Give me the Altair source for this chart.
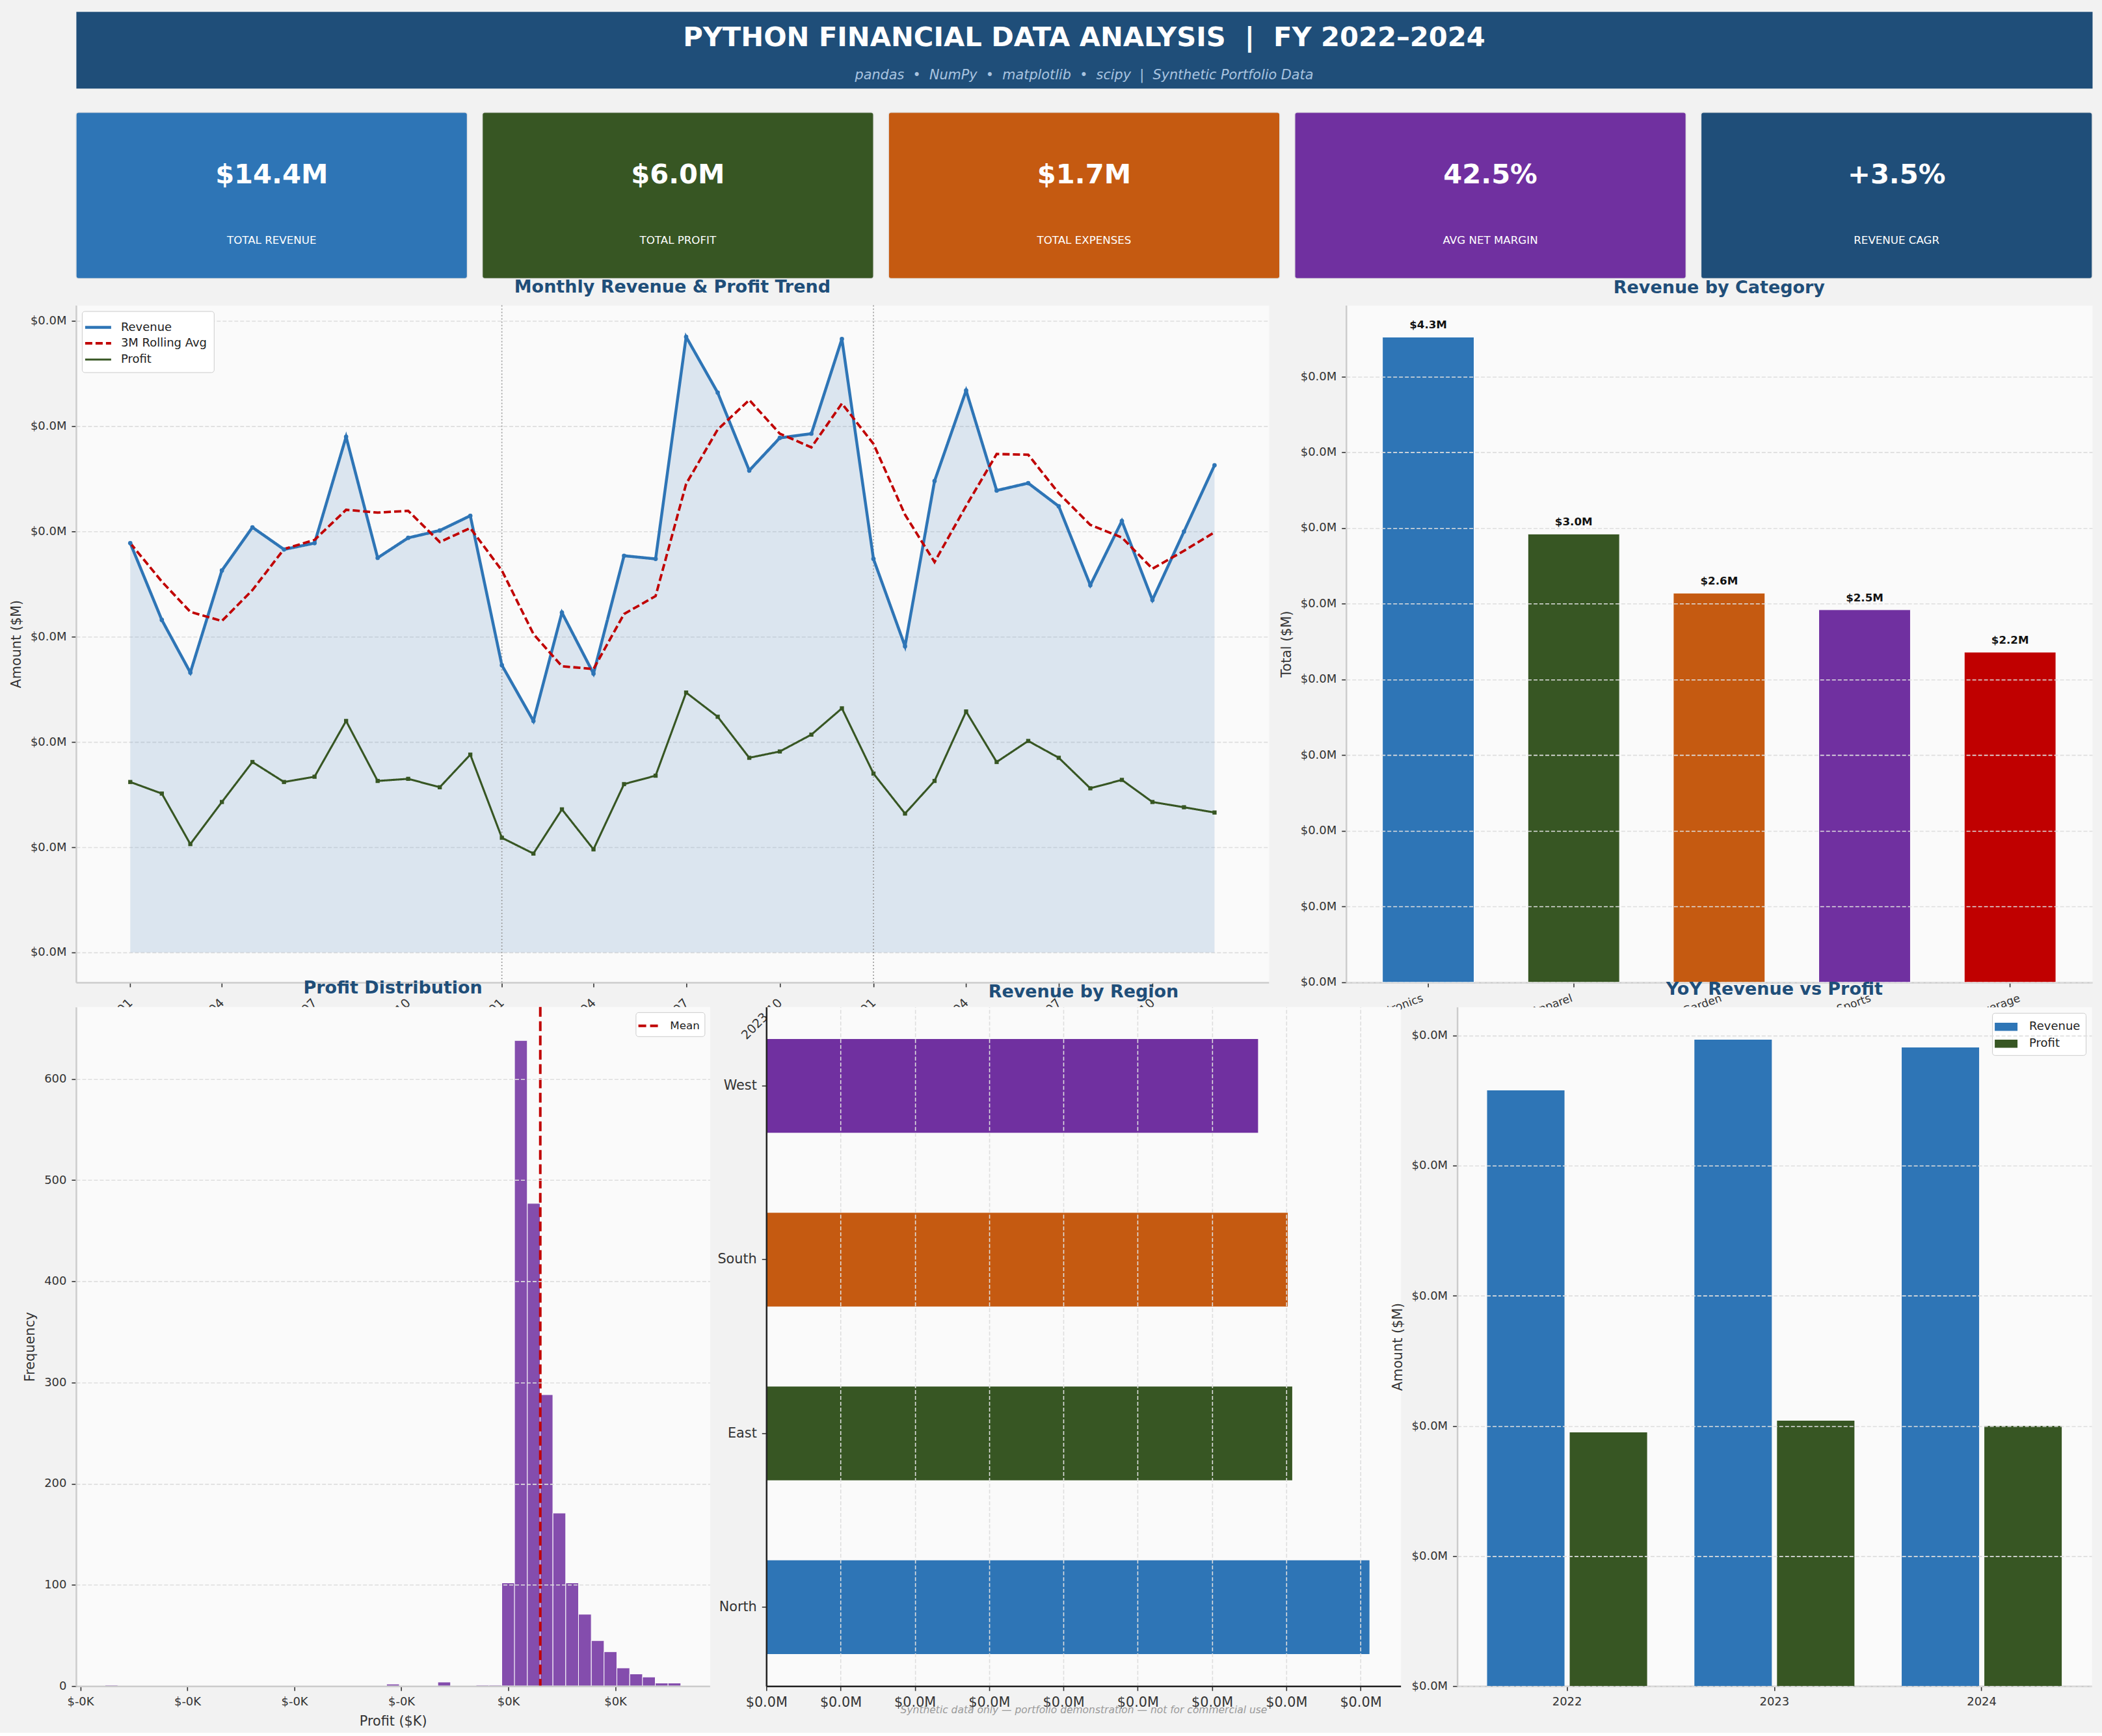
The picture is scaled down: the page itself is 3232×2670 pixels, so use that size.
import altair as alt
import pandas as pd

# ---------------------------------------------------------------- palette
FONT = "DejaVu Sans"
PAGE_BG = "#F2F2F2"
PANEL_BG = "#FAFAFA"
NAVY = "#1F4E79"
BLUE = "#2E75B6"
GREEN = "#375623"
ORANGE = "#C55A11"
PURPLE = "#7030A0"
RED = "#C00000"
INK = "#333333"
SPINE = "#CCCCCC"
GRID = "#DEDEDE"
NB = "\u00a0"

# ---------------------------------------------------------------- data
header_title = [f"PYTHON FINANCIAL DATA ANALYSIS {NB}|{NB} FY 2022\u20132024"]
header_subtitle = [f"pandas {NB}\u2022{NB} NumPy {NB}\u2022{NB} matplotlib {NB}\u2022{NB} scipy {NB}|{NB} Synthetic Portfolio Data"]
footnote = "Synthetic data only \u2014 portfolio demonstration \u2014 not for commercial use"

kpi_values = ["$14.4M", "$6.0M", "$1.7M", "42.5%", "+3.5%"]
kpi_labels = ["TOTAL REVENUE", "TOTAL PROFIT", "TOTAL EXPENSES", "AVG NET MARGIN", "REVENUE CAGR"]
kpi_colors = [BLUE, GREEN, ORANGE, PURPLE, NAVY]

months = [f"{y}-{m:02d}-01" for y in (2022, 2023, 2024) for m in range(1, 13)]
revenue = [0.389, 0.316, 0.266, 0.363, 0.404, 0.383, 0.389, 0.490, 0.375, 0.394, 0.401, 0.415,
           0.273, 0.220, 0.323, 0.265, 0.377, 0.374, 0.585, 0.532, 0.458, 0.489, 0.493, 0.583,
           0.374, 0.291, 0.448, 0.534, 0.439, 0.446, 0.424, 0.349, 0.410, 0.335, 0.400, 0.463]
profit = [0.162, 0.151, 0.103, 0.143, 0.181, 0.162, 0.167, 0.220, 0.163, 0.165, 0.157, 0.188,
          0.109, 0.094, 0.136, 0.098, 0.160, 0.168, 0.247, 0.224, 0.185, 0.191, 0.207, 0.232,
          0.170, 0.132, 0.163, 0.229, 0.181, 0.201, 0.185, 0.156, 0.164, 0.143, 0.138, 0.133]
year_dividers = ["2023-01-01", "2024-01-01"]
trend_series = ["Revenue", "3M Rolling Avg", "Profit"]

cat_names = ["Electronics", "Apparel", "Home & Garden", "Sports", "Food & Beverage"]
cat_totals = [4.26, 2.96, 2.57, 2.46, 2.18]
cat_colors = [BLUE, GREEN, ORANGE, PURPLE, RED]

hist_bin_start = [-37.69, -11.38, -6.59, -3.01, -1.81, -0.61, 0.58, 1.78, 2.97, 4.17,
                  5.37, 6.56, 7.76, 8.95, 10.15, 11.35, 12.54, 13.74, 14.93]
hist_count = [1, 2, 4, 1, 1, 102, 638, 477, 288, 171, 102, 71, 45, 34, 18, 12, 9, 3, 3]
hist_bin_width = 1.196
profit_mean_k = 2.99

regions = ["West", "South", "East", "North"]
region_totals = [3.31, 3.51, 3.54, 4.06]
region_colors = [PURPLE, ORANGE, GREEN, BLUE]

years = ["2022", "2023", "2024"]
yoy_revenue = [4.58, 4.97, 4.91]
yoy_profit = [1.95, 2.04, 2.00]

MONEY_M = "'$' + format(datum.value / 1000000, '.1f') + 'M'"
MONEY_K = "'$' + (datum.value < 0 ? '-' : '') + format(abs(datum.value) / 1000, '.0f') + 'K'"

# ---------------------------------------------------------------- page geometry
TREND_W, CAT_W, MID_H = 1835, 1148, 1042
HIST_W, REGION_W, YOY_W, BOT_H = 975, 976, 976, 1045
MID_GAP = 119            # between trend and category panels
BOT_GAP = 87             # between the three bottom panels
ROW_LEFT = 110           # room kept left of the rows for y-axis labels/titles
ROW_PAD = 3              # extra room the grid adds below a row

panel = alt.ViewBackground(fill=PANEL_BG, stroke="transparent")
legend_box = dict(fillColor="#FFFFFF", strokeColor="#CCCCCC", cornerRadius=4,
                  labelFont=FONT, labelColor="#222222")
one = pd.DataFrame({"v": [0]})


def margin_guide(bottom):
    """Invisible hairline fixing how far a row reaches left and down."""
    return alt.Chart(one).mark_rule(opacity=0, strokeWidth=1).encode(
        x=alt.value(-ROW_LEFT), y=alt.value(0), y2=alt.value(bottom))


def panel_fill(width, height):
    """Opaque plot background drawn as a mark (above the axis layer)."""
    return alt.Chart(one).mark_rect(color=PANEL_BG).encode(
        x=alt.value(0), x2=alt.value(width), y=alt.value(0), y2=alt.value(height))


def independent(c):
    return c.resolve_scale(color="independent", strokeDash="independent",
                           strokeWidth="independent", x="independent", y="independent")


# ---------------------------------------------------------------- header band
header_df = pd.DataFrame({"title": header_title, "subtitle": header_subtitle})
header = alt.layer(
    alt.Chart(header_df).mark_text(fontSize=41.7, fontWeight="bold", color="white",
                                   baseline="alphabetic").encode(
        text="title:N", x=alt.value(1551), y=alt.value(53)),
    alt.Chart(header_df).mark_text(fontSize=20.8, fontStyle="italic", color="#A9C4E0",
                                   baseline="alphabetic").encode(
        text="subtitle:N", x=alt.value(1551), y=alt.value(104)),
    margin_guide(118 + 39 - ROW_PAD),
).properties(width=3102, height=118,
             view=alt.ViewBackground(fill=NAVY, stroke="transparent"))


# ---------------------------------------------------------------- KPI cards
def kpi_card(value, label, color, first=False):
    df = pd.DataFrame({"value": [value], "label": [label]})
    layers = [
        alt.Chart(df).mark_text(fontSize=41.7, fontWeight="bold", color="white",
                                baseline="alphabetic").encode(
            text="value:N", x=alt.value(301), y=alt.value(109)),
        alt.Chart(df).mark_text(fontSize=16.7, color="white", baseline="alphabetic").encode(
            text="label:N", x=alt.value(301), y=alt.value(202)),
    ]
    if first:
        layers.append(margin_guide(256 + 43 - ROW_PAD))
    return alt.layer(*layers).properties(
        width=602, height=256,
        view=alt.ViewBackground(fill=color, stroke="#E4E4E4", strokeWidth=1.5, cornerRadius=4))


kpi_row = alt.hconcat(
    *[kpi_card(v, l, c, i == 0) for i, (v, l, c) in enumerate(zip(kpi_values, kpi_labels, kpi_colors))],
    spacing=23, bounds="flush")

# ---------------------------------------------------------------- monthly trend
trend_df = pd.DataFrame({"date": months, "Revenue": revenue, "Profit": profit})
divider_df = pd.DataFrame({"date": year_dividers})


def utc(y, m, d=1, h=0):
    return alt.DateTime(year=y, month=m, date=d, hours=h, utc=True)


trend_domain = [utc(2021, 11, 8, 18), utc(2025, 1, 23, 6)]
trend_ticks = [utc(y, m) for y in (2022, 2023, 2024) for m in (1, 4, 7, 10)]

# tick marks live with the panel; the date labels hang below it (drawn with the
# bottom row so that the lower panels cover them)
trend_x = alt.X("date:T", title=None, scale=alt.Scale(type="utc", domain=trend_domain),
                axis=alt.Axis(values=trend_ticks, labels=False, grid=False))


def trend_y(field):
    return alt.Y(f"{field}:Q", title="Amount ($M)",
                 scale=alt.Scale(domain=[-0.0284, 0.615], nice=False, zero=False),
                 axis=alt.Axis(values=[0, 0.1, 0.2, 0.3, 0.4, 0.5, 0.6],
                               labelExpr=MONEY_M, grid=True))


trend_area = alt.Chart(trend_df).mark_area(color=BLUE, opacity=0.15).encode(
    x=trend_x, y=trend_y("Revenue"))
trend_dividers = alt.Chart(divider_df).mark_rule(
    color="#9A9A9A", strokeDash=[2, 3], strokeWidth=1.6).encode(x=trend_x)
trend_lines = alt.Chart(trend_df).transform_window(
    **{"3M Rolling Avg": "mean(Revenue)"}, frame=[-2, 0], sort=[alt.SortField("date")]
).transform_fold(trend_series, as_=["series", "amount"]).mark_line().encode(
    x=trend_x, y=trend_y("amount"),
    color=alt.Color("series:N", title=None,
                    scale=alt.Scale(domain=trend_series, range=[BLUE, RED, GREEN]),
                    legend=alt.Legend(orient="top-left", offset=9, padding=10, labelFontSize=18,
                                      symbolType="M-1.6,0H1.6", symbolSize=625,
                                      symbolStrokeWidth=3.5, rowPadding=1, labelOffset=20,
                                      **legend_box)),
    strokeDash=alt.StrokeDash("series:N", title=None,
                              scale=alt.Scale(domain=trend_series,
                                              range=[[1, 0], [11, 5], [1, 0]])),
    strokeWidth=alt.StrokeWidth("series:N",
                                scale=alt.Scale(domain=trend_series, range=[4.5, 3.1, 3.1]),
                                legend=None),
)
rev_points = alt.Chart(trend_df).mark_circle(color=BLUE, size=45, opacity=1).encode(
    x=trend_x, y=trend_y("Revenue"))
profit_points = alt.Chart(trend_df).mark_square(color=GREEN, size=40, opacity=1).encode(
    x=trend_x, y=trend_y("Profit"))

trend_chart = alt.layer(
    trend_area, trend_dividers, trend_lines, rev_points, profit_points,
    margin_guide(MID_H + 40 - ROW_PAD),
).properties(width=TREND_W, height=MID_H, title="Monthly Revenue & Profit Trend", view=panel)

# ---------------------------------------------------------------- revenue by category
cat_df = pd.DataFrame({"category": cat_names, "total": cat_totals})
cat_band = dict(paddingInner=0.37, paddingOuter=0.25)
cat_x = alt.X("category:N", sort=cat_names, title=None, scale=alt.Scale(**cat_band),
              axis=alt.Axis(labels=False, grid=False))
cat_y = alt.Y("total:Q", title="Total ($M)", scale=alt.Scale(domain=[0, 4.47], nice=False),
              axis=alt.Axis(values=[0, 0.5, 1, 1.5, 2, 2.5, 3, 3.5, 4], labelExpr=MONEY_M,
                            zindex=1))
cat_bars = alt.Chart(cat_df).mark_bar(stroke="white", strokeWidth=1).encode(
    x=cat_x, y=cat_y,
    color=alt.Color("category:N", scale=alt.Scale(domain=cat_names, range=cat_colors), legend=None))
cat_text = alt.Chart(cat_df).transform_calculate(
    label="'$' + format(datum.total, '.1f') + 'M'"
).mark_text(baseline="bottom", dy=-9, fontSize=16.7, fontWeight="bold", color="#111111").encode(
    x=cat_x, y=cat_y, text="label:N")
cat_chart = alt.layer(cat_bars, cat_text).properties(
    width=CAT_W, height=MID_H, title="Revenue by Category", view=panel)

middle_row = independent(alt.hconcat(trend_chart, cat_chart, spacing=MID_GAP, bounds="flush"))

# ---------------------------------------------------------------- profit distribution
hist_df = pd.DataFrame({"bin_start": hist_bin_start, "count": hist_count})
LIFT = BOT_H + 37        # from the bottom row's baseline up to the middle row's baseline

# date labels of the trend panel, hung from its baseline
trend_labels = alt.Chart(trend_df).mark_point(opacity=0).encode(
    x=alt.X("date:T", title=None,
            scale=alt.Scale(type="utc", domain=trend_domain, range=[0, TREND_W]),
            axis=alt.Axis(orient="bottom", offset=-LIFT, values=trend_ticks,
                          labelExpr="utcFormat(datum.value, '%Y-%m')", labelAngle=-45,
                          labelAlign="right", labelBaseline="middle", labelFontSize=19,
                          labelPadding=27, ticks=False, domain=False, grid=False)))


def hist_x(field):
    return alt.X(f"{field}:Q", title="Profit ($K)",
                 scale=alt.Scale(domain=[-40.4, 18.83], nice=False, zero=False),
                 axis=alt.Axis(orient="bottom", values=[-40, -30, -20, -10, 0, 10],
                               labelExpr=MONEY_K, grid=False, zindex=1))


hist_bars = alt.Chart(hist_df).transform_calculate(
    bin_end=f"datum.bin_start + {hist_bin_width}"
).mark_bar(color=PURPLE, opacity=0.85, stroke="white", strokeWidth=1).encode(
    x=hist_x("bin_start"), x2="bin_end:Q",
    y=alt.Y("count:Q", title="Frequency", scale=alt.Scale(domain=[0, 671], nice=False),
            axis=alt.Axis(values=[0, 100, 200, 300, 400, 500, 600], zindex=1)),
    y2=alt.datum(0))
mean_df = pd.DataFrame({"stat": ["Mean"], "value": [profit_mean_k]})
hist_mean = alt.Chart(mean_df).mark_rule(strokeDash=[15, 7], strokeWidth=4).encode(
    x=hist_x("value"),
    color=alt.Color("stat:N", title=None, scale=alt.Scale(domain=["Mean"], range=[RED]),
                    legend=alt.Legend(orient="top-right", offset=8, padding=7, labelFontSize=16.7,
                                      symbolType="M-1.4,0H1.4", symbolSize=576,
                                      symbolStrokeWidth=4, symbolDash=[12, 6], labelOffset=18,
                                      **legend_box)))
hist_chart = alt.layer(
    panel_fill(HIST_W, BOT_H), trend_labels, alt.layer(hist_bars, hist_mean),
).resolve_scale(x="independent").properties(
    width=HIST_W, height=BOT_H, title=alt.TitleParams("Profit Distribution", dy=35), view=panel)

# ---------------------------------------------------------------- revenue by region
region_df = pd.DataFrame({"region": regions, "total": region_totals})
cat_left = TREND_W + MID_GAP - (HIST_W + BOT_GAP)   # category panel, seen from here

# category labels of the bar panel above, hung from its baseline
cat_labels = alt.Chart(cat_df).mark_point(opacity=0).encode(
    x=alt.X("category:N", sort=cat_names, title=None,
            scale=alt.Scale(range=[cat_left, cat_left + CAT_W], **cat_band),
            axis=alt.Axis(orient="bottom", offset=-LIFT, labelAngle=-20, labelAlign="right",
                          labelBaseline="top", labelFontSize=17, labelPadding=15,
                          ticks=False, domain=False, grid=False)))

region_bars = alt.Chart(region_df).mark_bar().encode(
    y=alt.Y("region:N", sort=regions, title=None,
            scale=alt.Scale(paddingInner=0.46, paddingOuter=0.184),
            axis=alt.Axis(labelFontSize=20.8, domainColor="#222222", grid=False, zindex=1)),
    x=alt.X("total:Q", scale=alt.Scale(domain=[0, 4.27], nice=False),
            axis=alt.Axis(orient="bottom", values=[0, 0.5, 1, 1.5, 2, 2.5, 3, 3.5, 4],
                          labelExpr=MONEY_M, labelFontSize=20.8, domainColor="#222222",
                          grid=True, zindex=1,
                          title=footnote, titleFontStyle="italic", titleColor="#9A9A9A",
                          titleFontSize=15.5, titleY=36, titleBaseline="middle")),
    color=alt.Color("region:N", scale=alt.Scale(domain=regions, range=region_colors), legend=None),
)
region_chart = alt.layer(
    panel_fill(REGION_W, BOT_H), cat_labels, region_bars,
).resolve_scale(x="independent").properties(
    width=REGION_W, height=BOT_H, title=alt.TitleParams("Revenue by Region", dy=41), view=panel)

# ---------------------------------------------------------------- year over year
yoy_df = pd.DataFrame({"year": years * 2,
                       "series": ["Revenue"] * 3 + ["Profit"] * 3,
                       "amount": yoy_revenue + yoy_profit})
yoy_chart = alt.Chart(yoy_df).mark_bar().encode(
    x=alt.X("year:N", title=None, scale=alt.Scale(paddingInner=0.228, paddingOuter=0.144),
            axis=alt.Axis(labelAngle=0, grid=False)),
    xOffset=alt.XOffset("series:N", scale=alt.Scale(domain=["Revenue", "Profit"], paddingInner=0.063)),
    y=alt.Y("amount:Q", title="Amount ($M)", scale=alt.Scale(domain=[0, 5.22], nice=False),
            axis=alt.Axis(values=[0, 1, 2, 3, 4, 5], labelExpr=MONEY_M, zindex=1)),
    color=alt.Color("series:N", title=None,
                    scale=alt.Scale(domain=["Revenue", "Profit"], range=[BLUE, GREEN]),
                    legend=alt.Legend(orient="top-right", offset=9, padding=8, labelFontSize=18,
                                      symbolType="M-1.4,-0.5H1.4V0.5H-1.4Z", symbolSize=625,
                                      rowPadding=3, labelOffset=22, **legend_box)),
).properties(width=YOY_W, height=BOT_H, title="YoY Revenue vs Profit", view=panel)

bottom_row = independent(alt.hconcat(hist_chart, region_chart, yoy_chart, spacing=BOT_GAP, bounds="flush"))

# ---------------------------------------------------------------- page
page = independent(alt.vconcat(header, kpi_row, middle_row, bottom_row, spacing=-185))

chart = page.properties(
    background=PAGE_BG,
    padding={"left": 116 - ROW_LEFT, "top": 16, "right": 14, "bottom": 6},
).configure(font=FONT).configure_view(stroke="transparent").configure_axis(
    labelFont=FONT, titleFont=FONT, labelColor=INK, titleColor=INK, tickColor=INK,
    tickSize=7, tickWidth=1.6, labelPadding=8, labelFontSize=18, labelFlush=False,
    labelOverlap=False, domainColor=SPINE, domainWidth=2.5, gridColor=GRID, gridDash=[6, 3],
    gridWidth=1.6, titleFontSize=20.8, titleFontWeight="normal", titlePadding=11,
).configure_title(
    font=FONT, fontSize=27, fontWeight="bold", color=NAVY, anchor="middle", offset=13,
)

chart.save("out.html", embed_options={"renderer": "svg", "actions": False})
